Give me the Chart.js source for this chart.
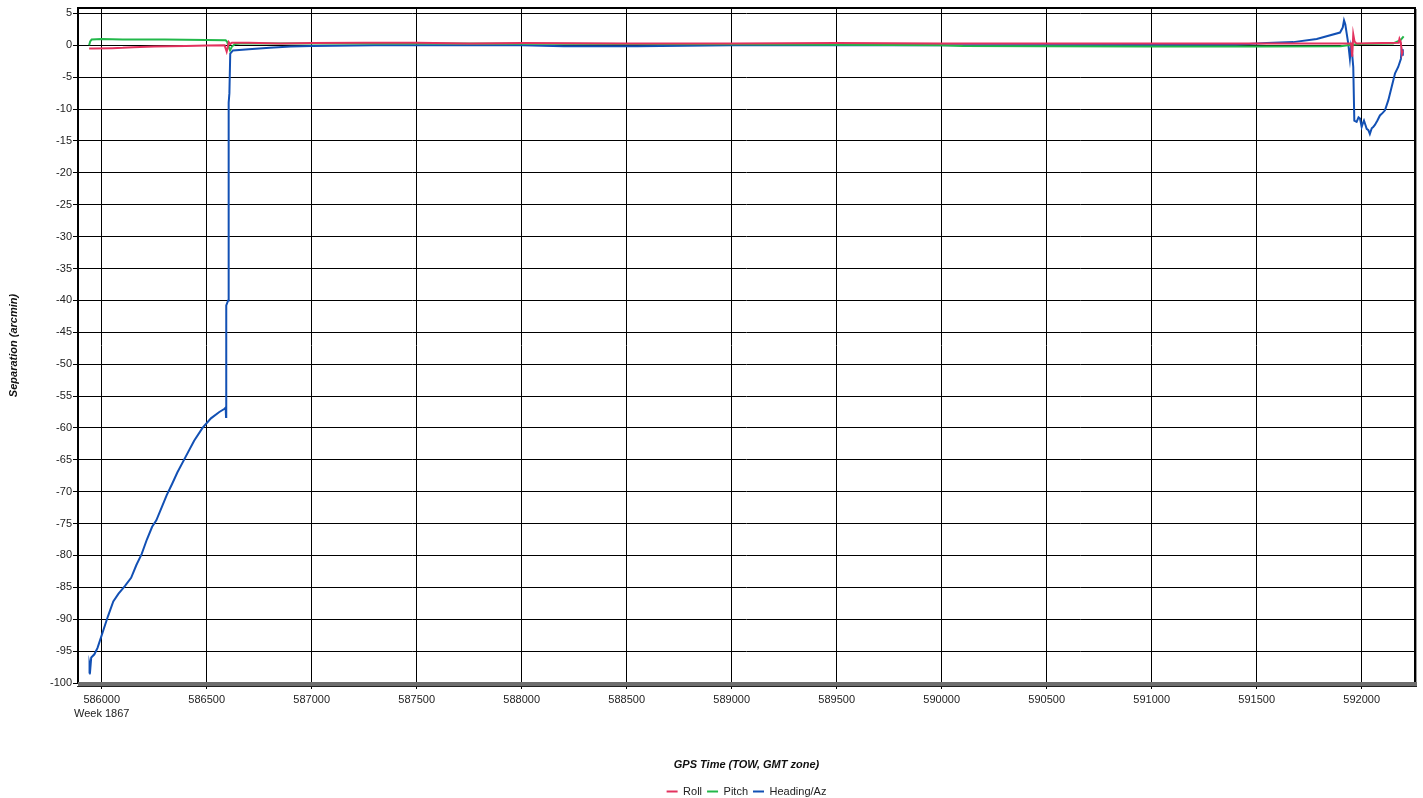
<!DOCTYPE html>
<html>
<head>
<meta charset="utf-8">
<title>Separation</title>
<script src="https://cdn.jsdelivr.net/npm/chart.js@4.4.1/dist/chart.umd.min.js"></script>
<style>
  html, body { margin: 0; padding: 0; background: #fff; }
  #wrap { width: 1423px; height: 798px; }
</style>
</head>
<body>
<div id="wrap"><canvas id="sepChart" width="1423" height="798"></canvas></div>
<script>
// tick values
const xTicks = [586000, 586500, 587000, 587500, 588000, 588500, 589000, 589500, 590000, 590500, 591000, 591500, 592000];
const yTicks = [5, 0, -5, -10, -15, -20, -25, -30, -35, -40, -45, -50, -55, -60, -65, -70, -75, -80, -85, -90, -95, -100];
const weekLabel = "Week 1867";

const seriesNames = ["Roll", "Pitch", "Heading/Az"];
const seriesColors = ["#e3325e", "#22b84a", "#1250b4"];

// Roll
const rollX = [585940, 585960, 586050, 586100, 586150, 586250, 586400, 586500, 586585, 586590, 586595, 586600, 586605, 586612, 586620, 586700, 586850, 587000, 587250, 587500, 587750, 588000, 588500, 589000, 589500, 590000, 590500, 591000, 591500, 591900, 591950, 591955, 591960, 591966, 591975, 592100, 592176, 592180, 592186, 592192, 592196];
const rollY = [-0.5, -0.5, -0.45, -0.4, -0.3, -0.2, -0.1, -0.05, 0.0, -0.5, -1.0, -0.3, 0.5, 0.2, 0.4, 0.4, 0.3, 0.35, 0.4, 0.4, 0.3, 0.35, 0.3, 0.3, 0.35, 0.3, 0.3, 0.3, 0.3, 0.3, 0.3, -1.8, 1.7, 0.6, 0.3, 0.35, 0.4, 1.0, 0.5, -1.3, -0.8];

// Pitch
const pitchX = [585940, 585945, 585952, 586000, 586100, 586300, 586500, 586590, 586598, 586605, 586611, 586620, 586635, 586660, 587000, 587500, 588000, 588500, 589000, 589500, 590000, 590100, 590500, 591000, 591500, 591900, 591950, 592000, 592150, 592185, 592200];
const pitchY = [0.0, 0.6, 0.9, 1.0, 0.9, 0.9, 0.85, 0.8, 0.5, -0.3, -0.8, -0.2, 0.2, 0.3, 0.3, 0.3, 0.25, 0.2, 0.15, 0.1, 0.0, -0.1, -0.15, -0.2, -0.2, -0.15, 0.1, 0.2, 0.3, 0.8, 1.4];

// Heading/Az
const headingX = [585940, 585942, 585946, 585950, 585965, 585980, 585995, 586010, 586030, 586055, 586080, 586110, 586140, 586165, 586190, 586215, 586240, 586260, 586285, 586310, 586335, 586360, 586400, 586440, 586480, 586520, 586560, 586585, 586590, 586592, 586593, 586602, 586603, 586606, 586608, 586612, 586625, 586700, 586800, 586900, 587000, 587300, 588000, 588200, 588550, 589000, 590000, 591000, 591400, 591548, 591674, 591786, 591897, 591910, 591916, 591922, 591929, 591936, 591944, 591949, 591955, 591960, 591965, 591976, 591985, 591992, 592000, 592006, 592011, 592018, 592024, 592032, 592039, 592048, 592055, 592063, 592075, 592087, 592100, 592111, 592127, 592143, 592159, 592174, 592187, 592190, 592193, 592196];
const headingY = [-98.5, -97.0, -97.6, -96.0, -95.5, -94.5, -93.0, -91.5, -89.5, -87.2, -86.0, -84.8, -83.5, -81.5, -79.8, -77.5, -75.5, -74.5, -72.5, -70.5, -68.8, -67.0, -64.5, -62.0, -60.0, -58.5, -57.5, -57.0, -56.8, -58.3, -40.8, -40.0, -12.5, -9.0, -7.5, -1.3, -0.8, -0.6, -0.4, -0.2, -0.1, 0.0, 0.0, -0.15, -0.15, 0.0, 0.0, 0.05, 0.1, 0.35, 0.5, 1.0, 2.0, 2.8, 3.9, 3.3, 1.8, 0.3, -2.1, -0.3, -1.5, -3.4, -11.8, -12.0, -11.3, -11.5, -12.8, -12.2, -11.8, -12.5, -13.1, -13.3, -13.9, -13.0, -12.8, -12.5, -11.8, -11.0, -10.6, -10.2, -8.6, -6.5, -4.4, -3.4, -2.1, -0.8, -1.5, -0.6];

const FONT = "'Liberation Sans', Arial, sans-serif";

document.addEventListener("DOMContentLoaded", function () {
  const toPoints = (xs, ys) => xs.map((x, i) => ({ x: x, y: ys[i] }));

  const series = [
    toPoints(rollX, rollY),
    toPoints(pitchX, pitchY),
    toPoints(headingX, headingY),
  ];

  // frame around plot area (black, with grey bottom band)
  const framePlugin = {
    id: "frame",
    afterDraw(chart) {
      const { ctx, chartArea } = chart;
      const l = chartArea.left, t = chartArea.top, r = chartArea.right, b = chartArea.bottom;
      ctx.save();
      ctx.strokeStyle = "#000";
      ctx.lineWidth = 2;
      ctx.strokeRect(l, t, r - l, b - t);
      ctx.fillStyle = "#9a9a9a";
      ctx.fillRect(r + 1, t + 1, 1, b - t + 3);
      ctx.fillStyle = "#6e6e6e";
      ctx.fillRect(l, b - 1, r - l + 2, 4);
      ctx.fillStyle = "#222";
      ctx.fillRect(l - 1, b + 3, r - l + 3, 1);
      ctx.restore();
    },
  };

  const sepCtx = document.getElementById("sepChart").getContext("2d");
  const sepChart = new Chart(sepCtx, {
    type: "line",
    data: {
      datasets: seriesNames.map((name, i) => ({
        label: name,
        data: series[i],
        borderColor: seriesColors[i],
        backgroundColor: seriesColors[i],
        borderWidth: 2,
        pointRadius: 0,
        tension: 0,
        fill: false,
      })),
    },
    options: {
      responsive: false,
      animation: false,
      layout: {
        padding: { top: 8, right: 8, left: 0, bottom: -9 },
      },
      plugins: {
        tooltip: { enabled: false },
        legend: {
          position: "bottom",
          fullSize: false,
          labels: {
            usePointStyle: true,
            pointStyle: "line",
            pointStyleWidth: 11,
            color: "#222",
            padding: 5,
            font: { family: FONT, size: 11 },
          },
        },
      },
      scales: {
        x: {
          type: "linear",
          min: 585887,
          max: 592254,
          afterBuildTicks: (axis) => {
            axis.ticks = xTicks.map((v) => ({ value: v }));
          },
          afterFit: (scale) => {
            scale.height = 98;
          },
          grid: {
            color: "#000",
            lineWidth: 1,
            tickLength: 6,
            drawTicks: true,
          },
          border: { display: false },
          ticks: {
            autoSkip: false,
            maxRotation: 0,
            padding: 4,
            color: "#222",
            font: { family: FONT, size: 11, lineHeight: 1.27 },
            callback: function (value) {
              if (value === xTicks[0]) return [String(value), weekLabel];
              return String(value);
            },
          },
          title: {
            display: true,
            text: "GPS Time (TOW, GMT zone)",
            color: "#111",
            padding: { top: 4, bottom: 9 },
            font: { family: FONT, size: 11, weight: "bold", style: "italic" },
          },
        },
        y: {
          type: "linear",
          min: -100,
          max: 5.85,
          afterBuildTicks: (axis) => {
            axis.ticks = yTicks.map((v) => ({ value: v }));
          },
          afterFit: (scale) => {
            scale.width = 78;
          },
          grid: {
            color: "#000",
            lineWidth: 1,
            tickLength: 5,
          },
          border: { display: false },
          ticks: {
            padding: 1,
            color: "#222",
            font: { family: FONT, size: 11 },
            callback: (value) => String(value),
          },
          title: {
            display: true,
            text: "Separation (arcmin)",
            color: "#111",
            padding: { top: 7, bottom: 0 },
            font: { family: FONT, size: 11, weight: "bold", style: "italic" },
          },
        },
      },
    },
    plugins: [framePlugin],
  });
});
</script>
</body>
</html>
